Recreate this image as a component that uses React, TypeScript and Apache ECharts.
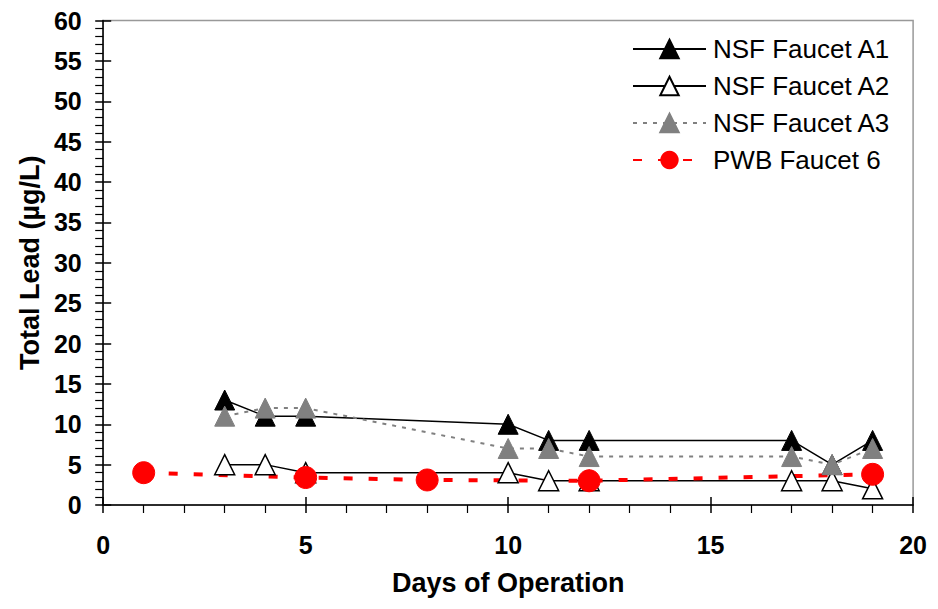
import React, { useEffect, useRef } from "react";
import * as echarts from "echarts";

const daysA = [3, 4, 5, 10, 11, 12, 17, 18, 19];
const faucetA1 = [13, 11, 11, 10, 8, 8, 8, 5, 8];
const faucetA2 = [5, 5, 4, 4, 3, 3, 3, 3, 2];
const faucetA3 = [11, 12, 12, 7, 7, 6, 6, 5, 7];
const daysPWB = [1, 5, 8, 12, 19];
const pwb6 = [4, 3.4, 3.1, 3.0, 3.8];

const seriesNames = ["NSF Faucet A1", "NSF Faucet A2", "NSF Faucet A3", "PWB Faucet 6"];
const xTitle = "Days of Operation";
const yTitle = "Total Lead (\u00b5g/L)";

const FONT = "Liberation Sans, Arial, sans-serif";

function pairs(xs: number[], ys: number[]) {
  return xs.map((x, i) => [x, ys[i]]);
}

export default function App() {
  const ref = useRef<HTMLDivElement>(null);
  useEffect(() => {
    if (!ref.current) return;
    const chart = echarts.init(ref.current, null, { renderer: "svg" });
    const baseX = { type: "value", min: 0, max: 20, interval: 5 };
    const baseY = { type: "value", min: 0, max: 60, interval: 5 };
    chart.setOption({
      animation: false,
      backgroundColor: "#fff",
      grid: {
        left: 86.5,
        right: 8,
        top: 8.5,
        bottom: 92,
        show: true,
        borderColor: "#999",
        borderWidth: 1.5,
      },
      legend: {
        orient: "vertical",
        left: 619,
        top: 23,
        itemWidth: 73,
        itemHeight: 23,
        itemGap: 11,
        textStyle: { fontFamily: FONT, fontSize: 26, lineHeight: 26, color: "#000", padding: [0, 0, 0, 2] },
        data: seriesNames,
      },
      xAxis: [
        {
          ...baseX,
          position: "bottom",
          name: xTitle,
          nameLocation: "middle",
          nameGap: 64,
          nameTextStyle: { fontFamily: FONT, fontSize: 27, fontWeight: "bold", color: "#000" },
          axisLine: { show: true, lineStyle: { color: "#000", width: 1.5 } },
          axisTick: { show: true, inside: false, length: 8, lineStyle: { color: "#000", width: 1.5 } },
          minorTick: { show: true, splitNumber: 5, length: 8, lineStyle: { color: "#000", width: 1.2 } },
          axisLabel: { fontFamily: FONT, fontSize: 25, fontWeight: "bold", color: "#000", margin: 27 },
          splitLine: { show: false },
        },
        {
          ...baseX,
          position: "bottom",
          axisLine: { show: false },
          axisTick: { show: true, inside: true, length: 8, lineStyle: { color: "#000", width: 1.5 } },
          axisLabel: { show: false },
          splitLine: { show: false },
        },
      ],
      yAxis: [
        {
          ...baseY,
          position: "left",
          name: yTitle,
          nameLocation: "middle",
          nameGap: 57,
          nameTextStyle: { fontFamily: FONT, fontSize: 27, fontWeight: "bold", color: "#000" },
          axisLine: { show: true, lineStyle: { color: "#000", width: 1.5 } },
          axisTick: { show: true, inside: false, length: 8, lineStyle: { color: "#000", width: 1.5 } },
          minorTick: { show: true, splitNumber: 5, length: 8, lineStyle: { color: "#000", width: 1.2 } },
          axisLabel: { fontFamily: FONT, fontSize: 25, fontWeight: "bold", color: "#000", margin: 21.5 },
          splitLine: { show: false },
        },
        {
          ...baseY,
          position: "left",
          axisLine: { show: false },
          axisTick: { show: true, inside: true, length: 8, lineStyle: { color: "#000", width: 1.5 } },
          axisLabel: { show: false },
          splitLine: { show: false },
        },
      ],
      series: [
        {
          name: seriesNames[0],
          type: "line",
          data: pairs(daysA, faucetA1),
          symbol: "triangle",
          symbolSize: 20,
          itemStyle: { color: "#000", borderColor: "#000", borderWidth: 1 },
          lineStyle: { color: "#000", width: 1.5 },
        },
        {
          name: seriesNames[1],
          type: "line",
          data: pairs(daysA, faucetA2),
          symbol: "triangle",
          symbolSize: 20,
          itemStyle: { color: "#fff", borderColor: "#000", borderWidth: 1.5 },
          lineStyle: { color: "#000", width: 1.5 },
        },
        {
          name: seriesNames[2],
          type: "line",
          data: pairs(daysA, faucetA3),
          symbol: "triangle",
          symbolSize: 20,
          itemStyle: { color: "#808080", borderColor: "#808080", borderWidth: 1 },
          lineStyle: { color: "#808080", width: 2, type: [4, 6] },
        },
        {
          name: seriesNames[3],
          type: "line",
          data: pairs(daysPWB, pwb6),
          symbol: "circle",
          symbolSize: 22,
          itemStyle: { color: "#ff0000", borderColor: "#ff0000" },
          lineStyle: { color: "#ff0000", width: 4, type: [9, 16] },
        },
      ],
    });
    return () => chart.dispose();
  }, []);
  return <div ref={ref} style={{ width: 922, height: 593 }} />;
}
